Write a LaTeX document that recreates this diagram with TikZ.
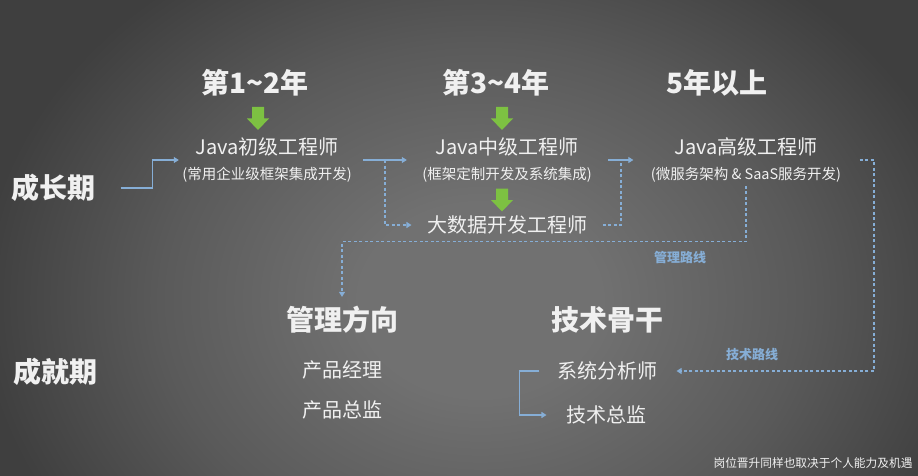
\documentclass[tikz,border=0pt]{standalone}
\usepackage{fontspec}
\newfontfamily\cjk{Noto Sans CJK SC}
\usetikzlibrary{arrows.meta}

\definecolor{bgdark}{HTML}{3F3F3F}
\definecolor{bgmid}{HTML}{5A5A5A}
\definecolor{bglight}{HTML}{717171}
\definecolor{txt}{HTML}{F0F0F0}
\definecolor{route}{HTML}{86AED6}
\definecolor{leaf}{HTML}{7DC142}

\pgfdeclareradialshading{bgglow}{\pgfpoint{0bp}{0bp}}{color(0bp)=(bglight); color(6bp)=(bglight); color(16bp)=(bgmid); color(25bp)=(bgdark); color(50bp)=(bgdark)}

\newcommand\subline[1]{{\fontsize{14.5}{17}\selectfont #1}}

\tikzset{
  head/.style={font=\cjk\bfseries\fontsize{28}{32}\selectfont, text=txt},
  card/.style={align=center, font=\cjk\fontsize{20}{24}\selectfont, text=txt},
  job/.style={font=\cjk\fontsize{20}{24}\selectfont, text=txt},
  routelabel/.style={font=\cjk\bfseries\fontsize{13}{15}\selectfont, text=route},
  note/.style={font=\cjk\fontsize{11.7}{14}\selectfont, text=txt},
  flow/.style={draw=route, line width=1.1pt, -{Triangle[width=6pt,length=5pt]}},
  branch/.style={flow, dash pattern=on 3pt off 2.5pt},
  greendown/.pic={\fill[leaf] (-6,-11.5) -- (6,-11.5) -- (6,0) -- (11,0) -- (0,11.5) -- (-11,0) -- (-6,0) -- cycle;}
}

\begin{document}
\begin{tikzpicture}[x=1pt,y=-1pt]
  \clip (0,0) rectangle (918,476);
  \fill[bgdark] (0,0) rectangle (918,476);
  \shade[shading=bgglow] (480,300) ellipse [x radius=500, y radius=400];

  % periods and years
  \node[head] (grow) at (53,188) {成长期};
  \node[head] (achieve) at (55,372) {成就期};
  \node[head] (y12) at (255,83) {第1\textasciitilde2年};
  \node[head] (y34) at (496,83) {第3\textasciitilde4年};
  \node[head] (y5) at (717,83) {5年以上};

  \pic at (258,118.5) {greendown};
  \pic at (502,118.5) {greendown};
  \pic at (502,200) {greendown};

  % growth stage
  \node[card] (junior) at (267,160) {Java初级工程师\\[1pt]\subline{(常用企业级框架集成开发)}};
  \node[card] (middle) at (507,160) {Java中级工程师\\[1pt]\subline{(框架定制开发及系统集成)}};
  \node[card] (senior) at (746,160) {Java高级工程师\\[1pt]\subline{(微服务架构 \& SaaS服务开发)}};
  \node[job] (bigdata) at (507,225) {大数据开发工程师};

  % achievement stage
  \node[head] (mgmt) at (342,320) {管理方向};
  \node[job] (pm) at (342,370) {产品经理};
  \node[job] (pd) at (342,410) {产品总监};
  \node[head] (tech) at (607,320) {技术骨干};
  \node[job] (sa) at (607,371) {系统分析师};
  \node[job] (cto) at (606,415) {技术总监};

  \node[routelabel] (mgmtlabel) at (680,258) {管理路线};
  \node[routelabel] (techlabel) at (752,355) {技术路线};
  \node[note] (footer) at (813,463) {岗位晋升同样也取决于个人能力及机遇};

  \coordinate (jsplit) at (385,0);
  \coordinate (msplit) at (621,0);
  \coordinate (techrun) at (874,0);

  % connectors
  \draw[flow] ([xshift=22pt]grow.east) -- ++(32,0) |- (junior.west);
  \draw[flow, shorten <=8pt, shorten >=12pt] (junior.east) -- (middle.west);
  \draw[branch, shorten >=12pt] (junior.east -| jsplit) |- (bigdata.west);
  \draw[flow, shorten <=13pt, shorten >=14pt] (middle.east) -- (senior.west);
  \draw[branch, -, shorten <=12pt] (bigdata.east) -| (middle.east -| msplit);
  \draw[branch, shorten >=6pt] (senior.south) -- ++(0,56) -| (mgmt.north);
  \draw[branch, shorten <=15pt, shorten >=16pt] (senior.east) -| (techrun |- sa.east) -- (sa.east);
  \draw[flow, shorten >=16pt] ([xshift=-14pt]sa.west) -- ++(-20,0) |- (cto.west);
\end{tikzpicture}
\end{document}
